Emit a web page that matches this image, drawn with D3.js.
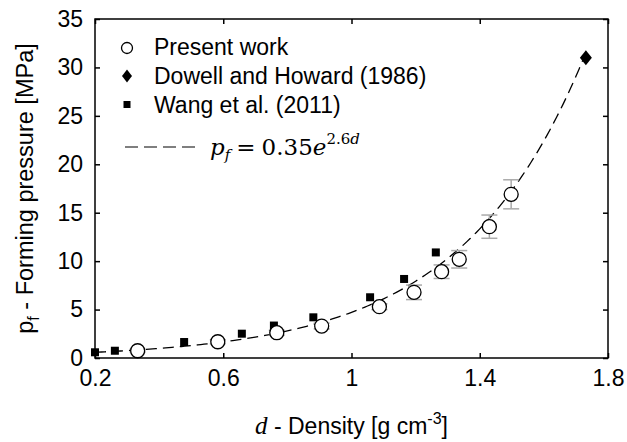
<!DOCTYPE html>
<html>
<head>
<meta charset="utf-8">
<script src="https://cdn.jsdelivr.net/npm/d3@7"></script>
<style>
  body { margin: 0; background: #fff; }
  svg { display: block; font-family: "Liberation Sans", Arial, sans-serif; }
</style>
</head>
<body>
<div id="chart"></div>
<script>
// present work (open circles with grey error bars)
const presentD   = [0.333, 0.583, 0.767, 0.907, 1.087, 1.195, 1.281, 1.336, 1.430, 1.498];
const presentP   = [0.75, 1.68, 2.61, 3.30, 5.30, 6.78, 8.91, 10.19, 13.56, 16.90];
const presentErr = [0.15, 0.2, 0.25, 0.3, 0.3, 0.75, 0.7, 0.9, 1.2, 1.5];

// Dowell and Howard (1986)
const dowellD = [1.731];
const dowellP = [31.0];

// Wang et al. (2011)
const wangD = [0.200, 0.262, 0.478, 0.658, 0.758, 0.881, 1.058, 1.164, 1.263];
const wangP = [0.59, 0.75, 1.65, 2.51, 3.35, 4.20, 6.27, 8.16, 10.90];

const xTicks = [0.2, 0.6, 1.0, 1.4, 1.8];
const yTicks = [0, 5, 10, 15, 20, 25, 30, 35];

// fit p_f = 0.35 e^(2.6 d)
const fitA = 0.35, fitB = 2.6;
const fitRange = [0.2, 1.731];

const width = 627, height = 442;
const margin = {top: 19, right: 19, bottom: 84, left: 95};

const x = d3.scaleLinear([0.2, 1.8], [margin.left, width - margin.right]);
const y = d3.scaleLinear([0, 35], [height - margin.bottom, margin.top]);

const svg = d3.select("#chart").append("svg")
    .attr("width", width)
    .attr("height", height);

const plotW = width - margin.right - margin.left;
const plotH = height - margin.bottom - margin.top;
const tickLen = 5;

// fitted curve
const fitData = d3.range(fitRange[0], fitRange[1] + 0.0001, 0.01)
    .map(d => [d, fitA * Math.exp(fitB * d)]);

svg.append("path")
    .datum(fitData)
    .attr("fill", "none")
    .attr("stroke", "#000")
    .attr("stroke-width", 1.3)
    .attr("stroke-dasharray", "11,6")
    .attr("d", d3.line().x(d => x(d[0])).y(d => y(d[1])));

// Wang squares
const sq = 8;
svg.append("g")
    .selectAll("rect")
    .data(wangD.map((d, i) => [d, wangP[i]]))
    .join("rect")
    .attr("x", d => x(d[0]) - sq / 2)
    .attr("y", d => y(d[1]) - sq / 2)
    .attr("width", sq)
    .attr("height", sq)
    .attr("fill", "#000");

// error bars
const present = presentD.map((d, i) => ({d, p: presentP[i], e: presentErr[i]}));
const eb = svg.append("g")
    .attr("stroke", "#aaa")
    .attr("stroke-width", 1.5)
    .selectAll("g")
    .data(present)
    .join("g");
eb.append("line")
    .attr("x1", d => x(d.d)).attr("x2", d => x(d.d))
    .attr("y1", d => y(d.p - d.e)).attr("y2", d => y(d.p + d.e));
eb.append("line")
    .attr("x1", d => x(d.d) - 8).attr("x2", d => x(d.d) + 8)
    .attr("y1", d => y(d.p + d.e)).attr("y2", d => y(d.p + d.e));
eb.append("line")
    .attr("x1", d => x(d.d) - 8).attr("x2", d => x(d.d) + 8)
    .attr("y1", d => y(d.p - d.e)).attr("y2", d => y(d.p - d.e));

// present work circles
svg.append("g")
    .selectAll("circle")
    .data(present)
    .join("circle")
    .attr("cx", d => x(d.d))
    .attr("cy", d => y(d.p))
    .attr("r", 7)
    .attr("fill", "#fff")
    .attr("stroke", "#000")
    .attr("stroke-width", 1.3);

// Dowell diamond
const diamond = (cx, cy, w, h) => `M${cx},${cy - h / 2}L${cx + w / 2},${cy}L${cx},${cy + h / 2}L${cx - w / 2},${cy}Z`;
svg.append("g")
    .selectAll("path")
    .data(dowellD.map((d, i) => [d, dowellP[i]]))
    .join("path")
    .attr("d", d => diamond(x(d[0]), y(d[1]), 12, 15))
    .attr("fill", "#000");

// frame
svg.append("rect")
    .attr("x", margin.left)
    .attr("y", margin.top)
    .attr("width", plotW)
    .attr("height", plotH)
    .attr("fill", "none")
    .attr("stroke", "#000")
    .attr("stroke-width", 1.5);

// axes with inward ticks
svg.append("g")
    .attr("transform", `translate(0,${height - margin.bottom})`)
    .call(d3.axisBottom(x).tickValues(xTicks).tickFormat(d3.format("~g")).tickSizeInner(-tickLen).tickSizeOuter(0).tickPadding(12));
svg.append("g")
    .attr("transform", `translate(${margin.left},0)`)
    .call(d3.axisLeft(y).tickValues(yTicks).tickSizeInner(-tickLen).tickSizeOuter(0).tickPadding(12));
svg.append("g")
    .attr("transform", `translate(0,${margin.top})`)
    .call(d3.axisTop(x).tickValues(xTicks).tickFormat("").tickSizeInner(-tickLen).tickSizeOuter(0));
svg.append("g")
    .attr("transform", `translate(${width - margin.right},0)`)
    .call(d3.axisRight(y).tickValues(yTicks).tickFormat("").tickSizeInner(-tickLen).tickSizeOuter(0));

svg.selectAll(".domain").remove();
svg.selectAll(".tick line").attr("stroke", "#000").attr("stroke-width", 1.5);
svg.selectAll(".tick text")
    .attr("font-family", "Liberation Sans, Arial, sans-serif")
    .attr("font-size", 23)
    .attr("fill", "#000");

// axis titles
const xLabel = svg.append("text")
    .attr("x", margin.left + plotW / 2)
    .attr("y", 434)
    .attr("text-anchor", "middle")
    .attr("font-size", 23);
xLabel.append("tspan")
    .attr("font-family", "Liberation Serif, serif")
    .attr("font-style", "italic")
    .attr("font-size", 25)
    .text("d");
xLabel.append("tspan").text(" - Density [g cm");
xLabel.append("tspan").attr("font-size", 16).attr("dy", -10).text("-3");
xLabel.append("tspan").attr("dy", 10).text("]");

const yLabel = svg.append("text")
    .attr("transform", `translate(33,${margin.top + plotH / 2}) rotate(-90)`)
    .attr("text-anchor", "middle")
    .attr("font-size", 23.5);
yLabel.append("tspan").text("p");
yLabel.append("tspan").attr("font-size", 16).attr("dy", 6).text("f");
yLabel.append("tspan").attr("dy", -6).text(" - Forming pressure [MPa]");

// legend
const legend = svg.append("g").attr("font-size", 23);
const lx = 127, tx = 154;
const rows = [55, 84, 112.5];
legend.append("circle")
    .attr("cx", lx).attr("cy", rows[0] - 7).attr("r", 5.5)
    .attr("fill", "#fff").attr("stroke", "#000").attr("stroke-width", 1.3);
legend.append("path")
    .attr("d", diamond(lx, rows[1] - 8, 10, 13))
    .attr("fill", "#000");
legend.append("rect")
    .attr("x", lx - 3.5).attr("y", rows[2] - 11.5).attr("width", 7).attr("height", 7)
    .attr("fill", "#000");
legend.selectAll("text.lab")
    .data(["Present work", "Dowell and Howard (1986)", "Wang et al. (2011)"])
    .join("text")
    .attr("class", "lab")
    .attr("x", tx)
    .attr("y", (d, i) => rows[i])
    .text(d => d);

legend.append("line")
    .attr("x1", 125).attr("x2", 199)
    .attr("y1", 147).attr("y2", 147)
    .attr("stroke", "#000").attr("stroke-width", 1.2)
    .attr("stroke-dasharray", "13,6");

const formula = legend.append("text")
    .attr("x", 210).attr("y", 155)
    .attr("font-family", "DejaVu Serif, serif")
    .attr("font-size", 23);
formula.append("tspan").attr("font-style", "italic").text("p");
formula.append("tspan").attr("font-style", "italic").attr("font-size", 15).attr("dy", 5).text("f");
formula.append("tspan").attr("dy", -5).attr("dx", 6).text("=");
formula.append("tspan").attr("dx", 6).text("0.35");
formula.append("tspan").attr("font-style", "italic").text("e");
formula.append("tspan").attr("font-size", 15).attr("dy", -11).text("2.6");
formula.append("tspan").attr("font-style", "italic").attr("font-size", 15).text("d");
</script>
</body>
</html>
